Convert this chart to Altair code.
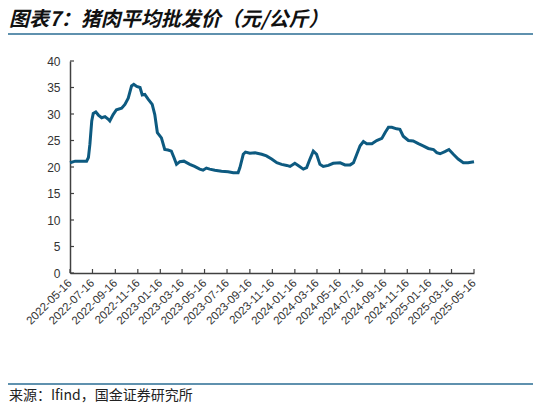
import pandas as pd
import altair as alt

# 猪肉平均批发价（元/公斤），读图取点
dates = [
    "2022-05-16", "2022-05-30", "2022-06-30", "2022-07-05", "2022-07-09", "2022-07-14",
    "2022-07-18", "2022-07-25", "2022-08-01", "2022-08-10", "2022-08-19", "2022-08-28",
    "2022-09-01", "2022-09-10", "2022-09-19", "2022-10-03", "2022-10-12", "2022-10-21",
    "2022-10-30", "2022-11-05", "2022-11-13", "2022-11-22", "2022-11-28", "2022-12-05",
    "2022-12-14", "2022-12-25",
    "2023-01-01", "2023-01-08", "2023-01-19", "2023-01-28", "2023-02-06", "2023-02-15",
    "2023-02-22", "2023-03-01", "2023-03-10", "2023-03-21", "2023-04-06", "2023-04-19",
    "2023-05-03", "2023-05-12", "2023-05-21", "2023-05-30", "2023-06-13", "2023-07-01",
    "2023-07-19", "2023-08-02", "2023-08-15", "2023-08-20", "2023-08-29", "2023-09-04",
    "2023-09-16", "2023-09-30", "2023-10-18", "2023-10-31", "2023-11-14", "2023-11-28",
    "2023-12-11", "2023-12-25",
    "2024-01-03", "2024-01-16", "2024-01-25", "2024-02-08", "2024-02-17", "2024-02-26",
    "2024-03-06", "2024-03-15", "2024-03-24", "2024-04-02", "2024-04-16", "2024-04-29",
    "2024-05-18", "2024-05-31", "2024-06-14", "2024-06-23", "2024-07-02", "2024-07-11",
    "2024-07-20", "2024-07-29", "2024-08-12", "2024-08-25", "2024-09-08", "2024-09-17",
    "2024-09-26", "2024-10-05", "2024-10-18", "2024-10-27", "2024-11-05", "2024-11-19",
    "2024-12-02", "2024-12-16", "2024-12-29",
    "2025-01-12", "2025-01-26", "2025-02-04", "2025-02-13", "2025-02-26", "2025-03-09",
    "2025-03-21", "2025-04-03", "2025-04-17", "2025-04-30", "2025-05-16",
]
prices = [
    20.8, 21.1, 21.1, 21.8, 24.3, 28.7,
    30.1, 30.4, 29.8, 29.3, 29.5, 29.0,
    28.7, 29.9, 30.8, 31.1, 31.8, 33.0,
    35.3, 35.6, 35.2, 35.0, 33.6, 33.7,
    32.8, 31.8,
    29.9, 26.5, 25.5, 23.3, 23.2, 23.0,
    21.8, 20.5, 21.0, 21.1, 20.5, 20.1,
    19.6, 19.4, 19.8, 19.6, 19.4, 19.2,
    19.1, 18.9, 18.9, 19.9, 22.4, 22.8,
    22.6, 22.7, 22.4, 22.1, 21.5, 20.8,
    20.5, 20.3,
    20.1, 20.7, 20.3, 19.6, 19.9, 21.5,
    23.0, 22.4, 20.5, 20.1, 20.3, 20.7,
    20.8, 20.4, 20.4, 20.8, 22.4, 24.0,
    24.8, 24.4, 24.4, 25.0, 25.4, 26.5,
    27.5, 27.5, 27.2, 27.1, 25.8, 25.0,
    24.9, 24.4, 24.0,
    23.5, 23.3, 22.7, 22.5, 22.9, 23.3,
    22.4, 21.5, 20.8, 20.8, 21.0,
]

x_ticks = [
    "2022-05-16", "2022-07-16", "2022-09-16", "2022-11-16", "2023-01-16", "2023-03-16",
    "2023-05-16", "2023-07-16", "2023-09-16", "2023-11-16", "2024-01-16", "2024-03-16",
    "2024-05-16", "2024-07-16", "2024-09-16", "2024-11-16", "2025-01-16", "2025-03-16",
    "2025-05-16",
]
y_ticks = [0, 5, 10, 15, 20, 25, 30, 35, 40]

title_text = "图表7：猪肉平均批发价（元/公斤）"
source_text = "来源：Ifind，国金证券研究所"

W, H = 404, 212
line_color = "#0D5A80"
rule_color = "#2A6C93"
axis_color = "#404040"


def to_dt(s):
    y, m, d = s.split("-")
    return alt.DateTime(year=int(y), month=int(m), date=int(d))


df = pd.DataFrame({"date": pd.to_datetime(dates), "price": prices})
xt = pd.DataFrame({"date": pd.to_datetime(x_ticks)})
yt = pd.DataFrame({"price": y_ticks})
one = pd.DataFrame({"k": [0]})

x_scale = alt.Scale(domain=[to_dt(x_ticks[0]), to_dt(x_ticks[-1])], nice=False)
y_scale = alt.Scale(domain=[0, 40], nice=False)

# 同一套轴设置给每个图层，合并时不冲突
x_axis = alt.Axis(values=[to_dt(s) for s in x_ticks], format="%Y-%m-%d",
                  labelAngle=-45, labelAlign="right", labelBaseline="middle",
                  labelPadding=8, labelOverlap=False, labelFlush=False,
                  labelFontSize=11.5, ticks=False, grid=False, title=None)
y_axis = alt.Axis(values=y_ticks, labelPadding=10, labelOverlap=False,
                  labelFontSize=12, ticks=False, grid=False, title=None)
x_enc = alt.X("date:T", scale=x_scale, axis=x_axis)
y_enc = alt.Y("price:Q", scale=y_scale, axis=y_axis)

line = alt.Chart(df).mark_line(color=line_color, strokeWidth=3).encode(
    x=x_enc, y=y_enc
)

# 刻度线朝内
x_tick_marks = alt.Chart(xt).mark_rule(color=axis_color, strokeWidth=1.2).encode(
    x=x_enc, y=alt.value(H), y2=alt.value(H - 4)
)
y_tick_marks = alt.Chart(yt).mark_rule(color=axis_color, strokeWidth=1.2).encode(
    y=y_enc, x=alt.value(0), x2=alt.value(4)
)

title = alt.Chart(one).mark_text(
    align="left", baseline="middle", font="Noto Sans CJK SC", fontSize=20,
    fontWeight="bold", fontStyle="italic", color="#111111"
).encode(x=alt.value(-61), y=alt.value(-41), text=alt.value(title_text))

top_rule = alt.Chart(one).mark_rule(color=rule_color, strokeWidth=1.5).encode(
    x=alt.value(-62), x2=alt.value(W + 59), y=alt.value(-27)
)
bottom_rule = alt.Chart(one).mark_rule(color=rule_color, strokeWidth=1.5).encode(
    x=alt.value(-62), x2=alt.value(W + 59), y=alt.value(323)
)

source = alt.Chart(one).mark_text(
    align="left", baseline="middle", font="Noto Sans CJK SC", fontSize=14,
    color="#222222"
).encode(x=alt.value(-61), y=alt.value(335), text=alt.value(source_text))

chart = alt.layer(
    line, x_tick_marks, y_tick_marks, title, top_rule, bottom_rule, source
).properties(
    width=W, height=H,
    autosize=alt.AutoSizeParams(type="none"),
    padding={"left": 62, "top": 53, "right": 59, "bottom": 135},
).configure_view(
    stroke=None
).configure_axis(
    domainColor=axis_color, domainWidth=1.5,
    labelFont="Liberation Sans", labelColor="#333333",
)

chart.save("out.html", embed_options={"renderer": "svg", "actions": False})
